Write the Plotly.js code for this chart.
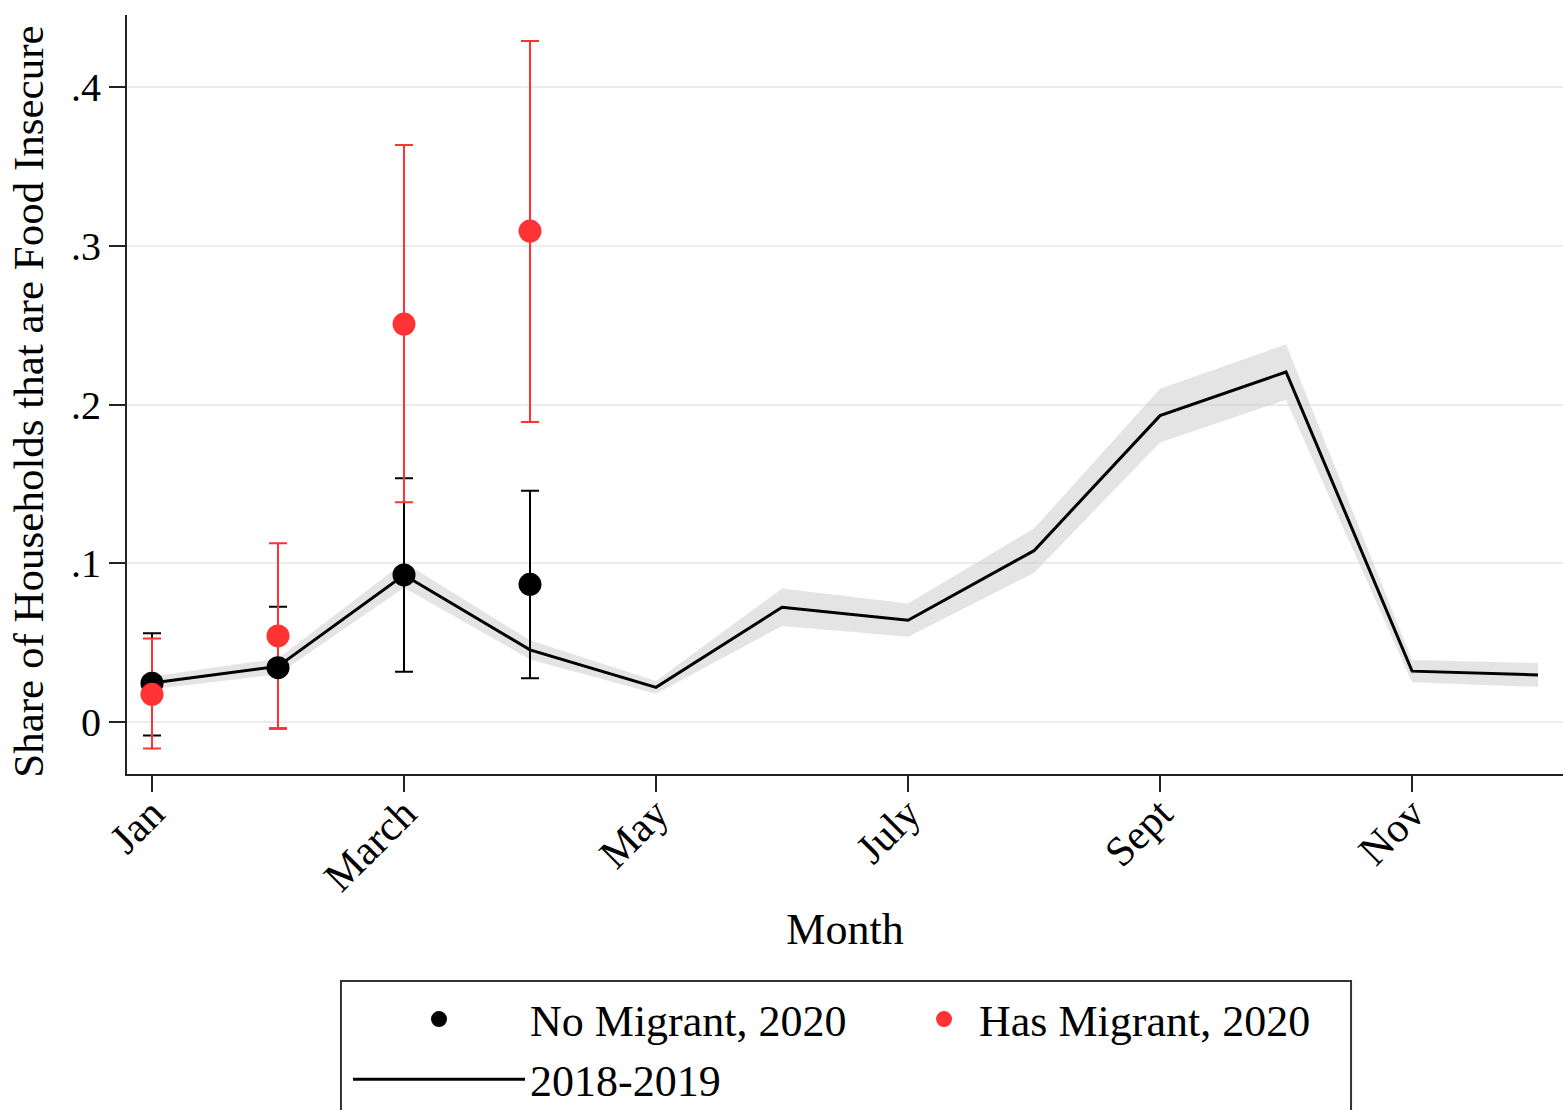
<!DOCTYPE html>
<html>
<head>
<meta charset="utf-8">
<script src="https://cdn.plot.ly/plotly-3.0.1.min.js"></script>
<style>html,body{margin:0;padding:0;background:#fff;}#chart{width:1563px;height:1110px;}</style>
</head>
<body>
<div id="chart"></div>
<script>
// ---- data ----
const months = [1,2,3,4,5,6,7,8,9,10,11,12];
const baseline = [0.0246,0.035,0.0926,0.0454,0.0218,0.0722,0.0641,0.1079,0.193,0.2205,0.032,0.0296];
const baselineHalfCI = [0.004,0.005,0.008,0.006,0.004,0.0118,0.0105,0.014,0.017,0.0175,0.007,0.0075];

const months2020 = [1,2,3,4];
const noMigrant = [0.0244,0.0342,0.0926,0.0867];
const noMigrantHi = [0.0559,0.0726,0.1535,0.1457];
const noMigrantLo = [-0.0086,-0.0042,0.0317,0.0275];
const hasMigrant = [0.0174,0.0542,0.2507,0.3093];
const hasMigrantHi = [0.0525,0.1126,0.3635,0.429];
const hasMigrantLo = [-0.0168,-0.0042,0.1384,0.189];

const tickVals = [1,3,5,7,9,11];
const tickText = ['Jan','March','May','July','Sept','Nov'];
const yTickVals = [0,0.1,0.2,0.3,0.4];
const yTickText = ['0','.1','.2','.3','.4'];
const yTitle = 'Share of Households that are Food Insecure';
const xTitle = 'Month';

// ---- derived ----
const bandLo = baseline.map((v,i)=>v-baselineHalfCI[i]);
const bandHi = baseline.map((v,i)=>v+baselineHalfCI[i]);
const errPlus = (mid,hi)=>hi.map((h,i)=>h-mid[i]);
const errMinus = (mid,lo)=>lo.map((l,i)=>mid[i]-l);

const FONT = 'Liberation Serif, Times New Roman, serif';
const RED = 'rgb(255,51,51)';

const traces = [
  {x:months,y:bandLo,mode:'lines',line:{width:0},hoverinfo:'skip',showlegend:false},
  {x:months,y:bandHi,mode:'lines',line:{width:0},fill:'tonexty',fillcolor:'rgba(205,205,205,0.55)',hoverinfo:'skip',showlegend:false},
  {x:months,y:baseline,mode:'lines',name:'2018-2019',line:{color:'#000',width:3},legend:'legend'},
  {x:months2020,y:noMigrant,mode:'markers',marker:{color:'rgba(0,0,0,0)',size:1},showlegend:false,
    error_y:{type:'data',symmetric:false,array:errPlus(noMigrant,noMigrantHi),arrayminus:errMinus(noMigrant,noMigrantLo),color:'#000',thickness:2,width:9}},
  {x:months2020,y:hasMigrant,mode:'markers',marker:{color:'rgba(0,0,0,0)',size:1},showlegend:false,
    error_y:{type:'data',symmetric:false,array:errPlus(hasMigrant,hasMigrantHi),arrayminus:errMinus(hasMigrant,hasMigrantLo),color:RED,thickness:2,width:9}},
  {x:months2020,y:noMigrant,mode:'markers',name:'No Migrant, 2020',marker:{color:'#000',size:23},legend:'legend'},
  {x:months2020,y:hasMigrant,mode:'markers',name:'Has Migrant, 2020',marker:{color:RED,size:23},legend:'legend2'}
];

const layout = {
  width:1563,height:1110,
  margin:{l:127,r:0,t:15,b:336,autoexpand:false},
  paper_bgcolor:'#fff',plot_bgcolor:'#fff',
  font:{family:FONT,color:'#000',size:40},
  showlegend:true,
  xaxis:{range:[0.8016,12.198],tickmode:'array',tickvals:tickVals,ticktext:tickText,tickangle:-45,
    ticks:'outside',ticklen:16,tickwidth:2,tickcolor:'#222',showline:true,linewidth:2,linecolor:'#222',
    showgrid:false,zeroline:false,tickfont:{family:FONT,size:42},ticklabelstandoff:-20,automargin:false,
    title:{text:xTitle,font:{family:FONT,size:44},standoff:14}},
  yaxis:{range:[-0.0328,0.4454],tickmode:'array',tickvals:yTickVals,ticktext:yTickText,
    ticks:'outside',ticklen:16,tickwidth:2,tickcolor:'#222',showline:true,linewidth:2,linecolor:'#222',
    showgrid:true,gridcolor:'#ececec',gridwidth:2,zeroline:false,tickfont:{family:FONT,size:40},automargin:false},
  annotations:[{text:yTitle,xref:'paper',yref:'paper',x:-0.0692,y:0.49,xanchor:'center',yanchor:'middle',
    textangle:-90,showarrow:false,font:{family:FONT,size:43,color:'#000'}}],
  legend:{x:0.1539,y:-0.2767,xanchor:'left',yanchor:'top',orientation:'v',itemwidth:172,traceorder:'reversed',
    font:{family:FONT,size:44},bgcolor:'rgba(0,0,0,0)',borderwidth:0,tracegroupgap:0},
  legend2:{x:0.5446,y:-0.2767,xanchor:'left',yanchor:'top',orientation:'v',itemwidth:60,
    font:{family:FONT,size:44},bgcolor:'rgba(0,0,0,0)',borderwidth:0},
  shapes:[{type:'rect',xref:'paper',yref:'paper',x0:0.149,x1:0.8524,y0:-0.2727,y1:-0.55,
    line:{color:'#333',width:2},fillcolor:'rgba(0,0,0,0)',layer:'below'}]
};

Plotly.newPlot('chart',traces,layout,{displayModeBar:false,staticPlot:true});
</script>
</body>
</html>
